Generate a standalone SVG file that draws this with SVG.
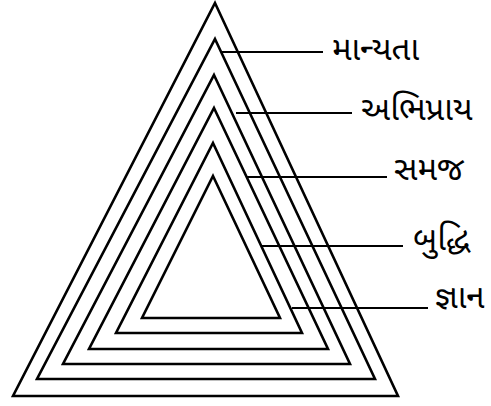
<svg xmlns="http://www.w3.org/2000/svg" width="491" height="406" viewBox="0 0 491 406">
<style>
.tri{fill:none;stroke:#000;stroke-width:2.6;stroke-linejoin:miter}
.ln{stroke:#000;stroke-width:2;fill:none}
.lb{font-family:"Noto Sans Gujarati","Noto Sans",sans-serif;font-size:33px;fill:#000}
</style>
<rect width="491" height="406" fill="#fff"/>
<g id="t1"><polygon class="tri" points="215,3 398,396 13,396"/></g>
<g id="t2"><polygon class="tri" points="215,39 375,379 37,379"/></g>
<g id="t3"><polygon class="tri" points="214,75 350,364 63,364"/></g>
<g id="t4"><polygon class="tri" points="214,108 328,349 89,349"/></g>
<g id="t5"><polygon class="tri" points="213,143 302,333 116,333"/></g>
<g id="t6"><polygon class="tri" points="213,176 280,318 142,318"/></g>
<g id="connectors">
<line class="ln" x1="222" y1="52" x2="323" y2="52"/>
<line class="ln" x1="236" y1="113" x2="352" y2="113"/>
<line class="ln" x1="247" y1="177" x2="387" y2="177"/>
<line class="ln" x1="261" y1="246" x2="403" y2="246"/>
<line class="ln" x1="292" y1="308" x2="428" y2="308"/>
</g>
<g id="label-1"><text class="lb" x="332" y="60">માન્યતા</text></g>
<g id="label-2"><text class="lb" x="361" y="120">અભિપ્રાય</text></g>
<g id="label-3"><text class="lb" x="394" y="180">સમજ</text></g>
<g id="label-4"><text class="lb" x="413" y="250">બુદ્ધિ</text></g>
<g id="label-5"><text class="lb" x="435" y="308">જ્ઞાન</text></g>
</svg>
